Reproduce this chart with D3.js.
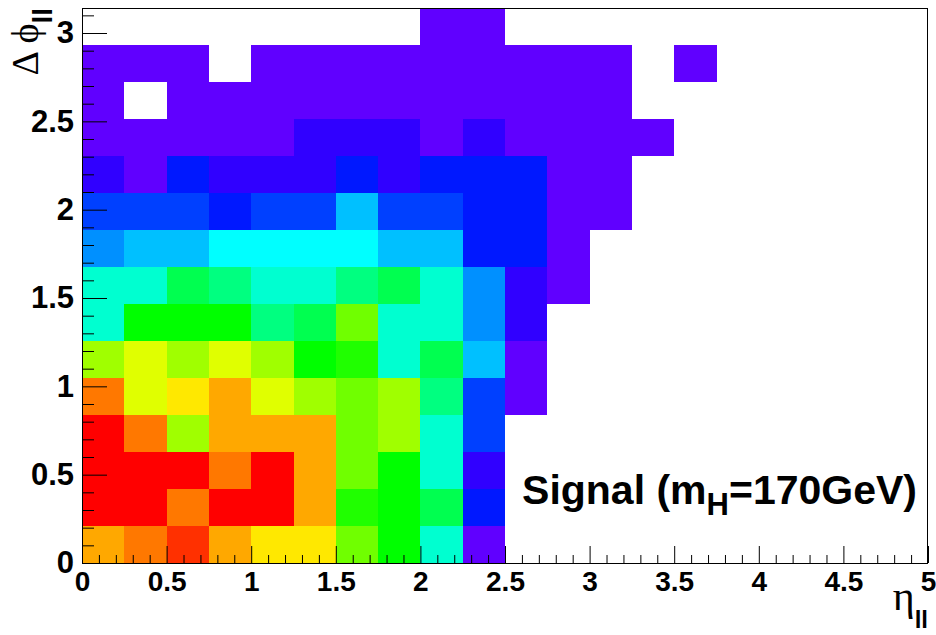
<!DOCTYPE html>
<html><head><meta charset="utf-8">
<script src="https://cdn.jsdelivr.net/npm/d3@7"></script>
<style>body{margin:0;background:#fff} svg{display:block}</style>
</head><body><svg id="c" width="936" height="635"></svg>
<script>
// ---- data ----
const xRange = [0, 5];            // eta_ll
const xBinCount = 20;
const yRange = [0, Math.PI];      // delta phi_ll
const yBinCount = 15;
// ROOT rainbow palette (low -> high)
const palette = ["#6000ff","#3000ff","#0018ff","#0040ff","#0090ff","#00c0ff","#00ffff","#00ffd0",
                 "#00ff80","#00ff50","#00ff00","#20ff00","#70ff00","#a0ff00","#e0ff00","#ffe800",
                 "#ffa800","#ff7800","#ff3000","#ff0000"];
// bin contents (colour level, 0 = empty), one array per dphi row, bottom row first
const row0  = [17,18,19,17,16,16,13,11,8,1];
const row1  = [20,20,18,20,20,17,12,11,10,3];
const row2  = [20,20,20,18,20,17,13,11,8,2];
const row3  = [20,18,14,17,17,17,13,14,8,4];
const row4  = [18,15,16,17,15,14,13,14,9,4,1];
const row5  = [14,15,14,15,14,11,12,8,10,6,1];
const row6  = [8,11,11,11,9,10,13,8,8,5,2];
const row7  = [8,8,10,9,8,8,9,10,8,5,2,1];
const row8  = [5,6,6,7,7,7,7,6,6,3,3,1];
const row9  = [4,4,4,3,4,4,6,4,4,3,3,1,1];
const row10 = [2,1,3,2,2,2,3,2,3,3,3,1,1];
const row11 = [1,1,1,1,1,2,2,2,1,2,1,1,1,1];
const row12 = [1,0,1,1,1,1,1,1,1,1,1,1,1];
const row13 = [1,1,1,0,1,1,1,1,1,1,1,1,1,0,1];
const row14 = [0,0,0,0,0,0,0,0,1,1];
const rows = [row0,row1,row2,row3,row4,row5,row6,row7,row8,row9,row10,row11,row12,row13,row14];
const xMajorTicks = [0,0.5,1,1.5,2,2.5,3,3.5,4,4.5,5];
const yMajorTicks = [0,0.5,1,1.5,2,2.5,3];
const label = "Signal (m";
const labelSub = "H";
const labelRest = "=170GeV)";

// ---- drawing ----
const svg = d3.select("#c");
const L = 82, R = 928, T = 8, B = 563;
const x = d3.scaleLinear().domain(xRange).range([L, R]);
const y = d3.scaleLinear().domain(yRange).range([B, T]);
const color = d3.scaleQuantize().domain([1, palette.length + 1]).range(palette);

const dx = (xRange[1]-xRange[0])/xBinCount, dy = (yRange[1]-yRange[0])/yBinCount;
const cells = [];
rows.forEach((r, j) => r.forEach((v, i) => { if (v > 0) cells.push({i, j, v}); }));

svg.append("g").selectAll("rect").data(cells).join("rect")
  .attr("x", d => Math.round(x(xRange[0] + d.i*dx)))
  .attr("y", d => Math.round(y(yRange[0] + (d.j+1)*dy)))
  .attr("width", d => Math.round(x(xRange[0] + (d.i+1)*dx)) - Math.round(x(xRange[0] + d.i*dx)))
  .attr("height", d => Math.round(y(yRange[0] + d.j*dy)) - Math.round(y(yRange[0] + (d.j+1)*dy)))
  .attr("fill", d => color(d.v))
  .attr("shape-rendering", "crispEdges");

// frame
svg.append("rect").attr("x", L+0.5).attr("y", T+0.5).attr("width", R-L-1).attr("height", B-T)
  .attr("fill", "none").attr("stroke", "#000").attr("stroke-width", 1);

const font = "'Liberation Sans', Arial, Helvetica, sans-serif";
const xMinor = d3.range(0, 51).map(k => k/10).filter(v => Math.abs(v*2 - Math.round(v*2)) > 1e-6);
const yMinor = d3.range(0, 32).map(k => k/10).filter(v => Math.abs(v*2 - Math.round(v*2)) > 1e-6);

const gxMinor = svg.append("g").attr("transform", `translate(0,${B})`)
  .call(d3.axisBottom(x).tickValues(xMinor).tickSize(-8).tickFormat(""));
const gx = svg.append("g").attr("transform", `translate(0,${B})`)
  .call(d3.axisBottom(x).tickValues(xMajorTicks).tickSizeInner(-17).tickSizeOuter(0).tickPadding(8)
        .tickFormat(d => String(d)));
const gyMinor = svg.append("g").attr("transform", `translate(${L},0)`)
  .call(d3.axisLeft(y).tickValues(yMinor).tickSize(-12).tickFormat(""));
const gy = svg.append("g").attr("transform", `translate(${L},0)`)
  .call(d3.axisLeft(y).tickValues(yMajorTicks).tickSizeInner(-25).tickSizeOuter(0).tickPadding(8)
        .tickFormat(d => String(d)));
[gxMinor, gx, gyMinor, gy].forEach(g => {
  g.select(".domain").remove();
  g.selectAll("line").attr("stroke", "#000");
});
gx.selectAll("text").attr("font-family", font).attr("font-weight", "bold").attr("font-size", 28).attr("fill", "#000");
gy.selectAll("text").attr("font-family", font).attr("font-weight", "bold").attr("font-size", 31).attr("fill", "#000");

// axis titles
const serif = "'Liberation Serif', 'DejaVu Serif', serif";
const yt = svg.append("text").attr("transform", "translate(38,8) rotate(-90)")
  .attr("text-anchor", "end").attr("fill", "#000");
yt.append("tspan").attr("font-family", serif).attr("font-size", 38).text("Δ ϕ");
yt.append("tspan").attr("font-family", font).attr("font-weight", "bold").attr("font-size", 28).attr("dy", 14).text("ll");

const xt = svg.append("text").attr("x", 928).attr("y", 610).attr("text-anchor", "end").attr("fill", "#000");
xt.append("tspan").attr("font-family", serif).attr("font-size", 42).text("η");
xt.append("tspan").attr("font-family", font).attr("font-weight", "bold").attr("font-size", 24).attr("dy", 18).text("ll");

// label
const st = svg.append("text").attr("x", 917).attr("y", 504).attr("text-anchor", "end")
  .attr("font-family", font).attr("font-weight", "bold").attr("font-size", 41).attr("fill", "#000");
st.append("tspan").text(label);
st.append("tspan").attr("font-size", 31).attr("dy", 11).text(labelSub);
st.append("tspan").attr("dy", -11).text(labelRest);
</script></body></html>
